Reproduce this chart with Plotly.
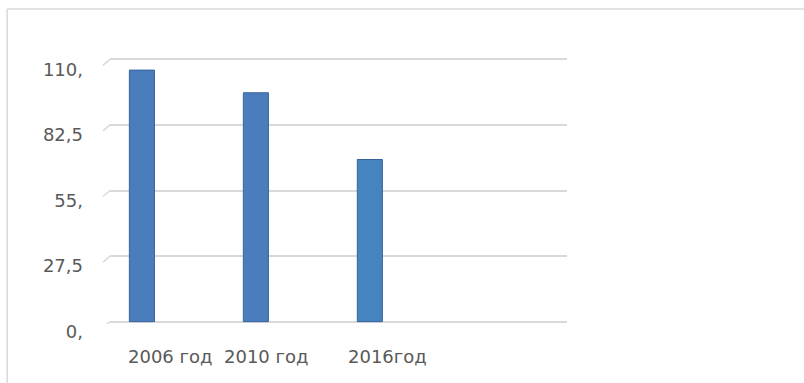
import plotly.graph_objects as go

# Chart data
years = ["2006 год", "2010 год", "2016год"]
values = [105.5, 96, 68]
tick_vals = [0, 27.5, 55, 82.5, 110]
tick_text = ["0,", "27,5", "55,", "82,5", "110,"]

bar_colors = ["#4a7dbb", "#4a7dbb", "#4584be"]
positions = list(range(len(years)))

fig = go.Figure()
fig.add_trace(go.Bar(
    x=positions,
    y=values,
    width=0.22,
    marker=dict(color=bar_colors, line=dict(color="#35649b", width=1)),
    hoverinfo="skip",
))

font_family = "DejaVu Sans"
grey_text = "#595959"

# category labels under the bars
label_shift = [28, 10, 18]
for i, (name, dx) in enumerate(zip(years, label_shift)):
    fig.add_annotation(
        x=positions[i], y=0, xref="x", yref="y",
        text=name, showarrow=False, xshift=dx, yshift=-35,
        font=dict(family=font_family, size=18, color=grey_text),
        xanchor="center", yanchor="middle",
    )

# small slanted stubs at the left end of each gridline
for v in tick_vals:
    fig.add_shape(
        type="line", xref="x domain", yref="y",
        xsizemode="pixel", ysizemode="pixel",
        xanchor=0, yanchor=v,
        x0=-7, x1=0, y0=-6, y1=0,
        line=dict(color="#d9d9d9", width=1.5),
    )

# chart frame (top and left edges)
fig.add_shape(type="line", xref="paper", yref="paper",
              x0=-0.225, x1=1.52, y0=1.18, y1=1.18,
              line=dict(color="#d9d9d9", width=1.5))
fig.add_shape(type="line", xref="paper", yref="paper",
              x0=-0.225, x1=-0.225, y0=1.18, y1=-0.3,
              line=dict(color="#d9d9d9", width=1.5))

fig.update_layout(
    width=804, height=383,
    margin=dict(l=110, r=237, t=57, b=59),
    paper_bgcolor="white", plot_bgcolor="white",
    showlegend=False,
    font=dict(family=font_family, size=18, color=grey_text),
    xaxis=dict(
        range=[-0.28, 3.73], showticklabels=False, showgrid=False,
        zeroline=False, showline=False, fixedrange=True,
    ),
    yaxis=dict(
        range=[-1, 111], tickvals=tick_vals, ticktext=tick_text,
        showgrid=True, gridcolor="#d9d9d9", gridwidth=1.5,
        zeroline=False, showline=False, ticks="",
        ticklabelstandoff=26, ticklabelshift=10,
        tickfont=dict(family=font_family, size=18, color=grey_text),
        fixedrange=True,
    ),
)

fig.write_html("out.html")
